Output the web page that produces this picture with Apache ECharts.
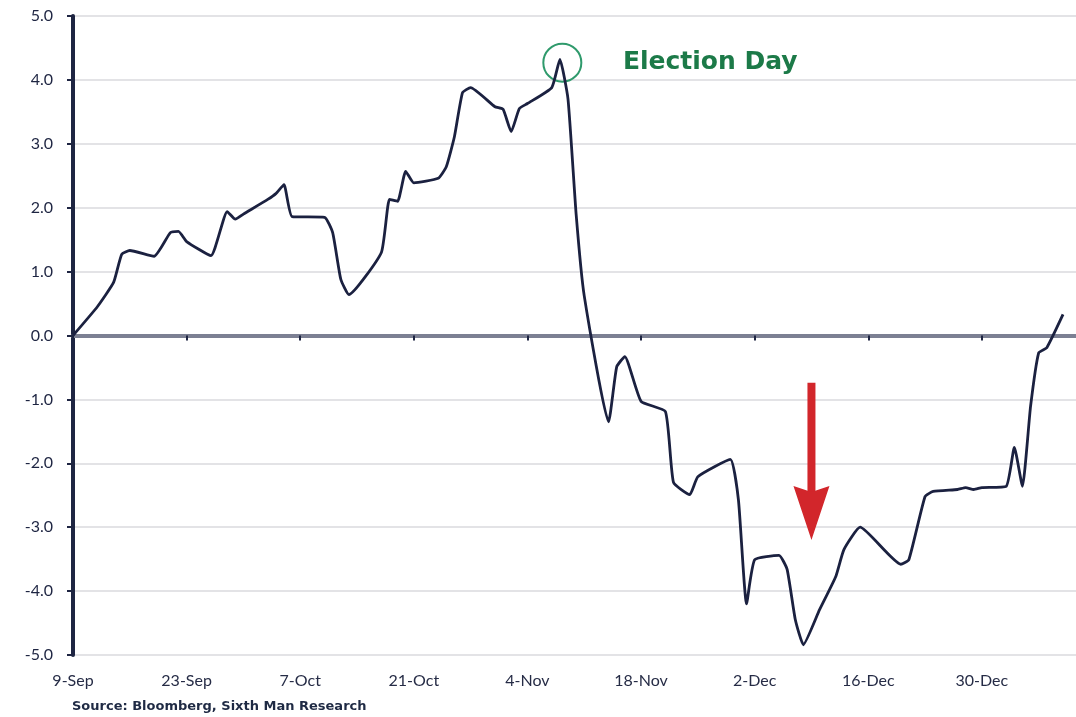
<!DOCTYPE html>
<html>
<head>
<meta charset="utf-8">
<script src="https://cdn.jsdelivr.net/npm/echarts@6/dist/echarts.min.js"></script>
<style>
html,body{margin:0;padding:0;background:#fff;}
#chart{width:1076px;height:717px;}
</style>
</head>
<body>
<div id="chart"></div>
<script>
// ---- data ----
const startDate = '2016-09-09';
const dates = [
 '2016-09-09','2016-09-12','2016-09-14','2016-09-15','2016-09-16','2016-09-19','2016-09-21','2016-09-22','2016-09-23',
 '2016-09-26','2016-09-28','2016-09-29','2016-09-30','2016-10-03','2016-10-04','2016-10-05','2016-10-06','2016-10-10',
 '2016-10-11','2016-10-12','2016-10-13','2016-10-17','2016-10-18','2016-10-19','2016-10-20','2016-10-21','2016-10-24',
 '2016-10-25','2016-10-26','2016-10-27','2016-10-28','2016-10-31','2016-11-01','2016-11-02','2016-11-03','2016-11-04',
 '2016-11-07','2016-11-08','2016-11-09','2016-11-10','2016-11-11','2016-11-14','2016-11-15','2016-11-16','2016-11-18',
 '2016-11-21','2016-11-22','2016-11-24','2016-11-25','2016-11-29','2016-11-30','2016-12-01','2016-12-02','2016-12-05',
 '2016-12-06','2016-12-07','2016-12-08','2016-12-10','2016-12-12','2016-12-13','2016-12-15','2016-12-20','2016-12-21',
 '2016-12-23','2016-12-24','2016-12-27','2016-12-28','2016-12-29','2016-12-30','2017-01-02','2017-01-03','2017-01-04',
 '2017-01-05','2017-01-06','2017-01-07','2017-01-09'
];
const values = [
 0.00,0.45,0.83,1.27,1.33,1.24,1.61,1.63,1.47,
 1.25,1.94,1.82,1.90,2.13,2.22,2.36,1.86,1.85,
 1.61,0.88,0.64,1.30,2.13,2.10,2.57,2.39,2.46,
 2.64,3.11,3.80,3.88,3.58,3.54,3.19,3.55,3.63,
 3.88,4.32,3.70,1.90,0.62,-1.35,-0.49,-0.33,-1.03,
 -1.19,-2.30,-2.49,-2.21,-1.94,-2.57,-4.20,-3.51,-3.44,
 -3.66,-4.44,-4.84,-4.29,-3.77,-3.35,-3.00,-3.58,-3.51,
 -2.52,-2.44,-2.41,-2.38,-2.41,-2.38,-2.36,-1.75,-2.36,
 -1.11,-0.27,-0.19,0.33
];
const xTickDays = [0,14,28,42,56,70,84,98,112];
const yTicks = [-5,-4,-3,-2,-1,0,1,2,3,4,5];
const monthNames = ['Jan','Feb','Mar','Apr','May','Jun','Jul','Aug','Sep','Oct','Nov','Dec'];
const electionDate = '2016-11-08';
const electionValue = 4.32;
const arrowDate = '2016-12-09';
const arrowFrom = -0.74;
const arrowTo = -3.2;
const annotationText = 'Election Day';
const sourceText = 'Source: Bloomberg, Sixth Man Research';

// ---- helpers ----
const DAY = 86400000;
const t0 = Date.parse(startDate + 'T00:00:00Z');
const dayOf = s => Math.round((Date.parse(s + 'T00:00:00Z') - t0) / DAY);
const labelOf = d => { const dt = new Date(t0 + d * DAY); return dt.getUTCDate() + '-' + monthNames[dt.getUTCMonth()]; };
const seriesData = dates.map((d, i) => [dayOf(d), values[i]]);

const dark = '#1e2542';
const font = 'Lato, "Open Sans", sans-serif';
const xMax = 123.6;

const chart = echarts.init(document.getElementById('chart'));
chart.setOption({
  animation: false,
  backgroundColor: '#ffffff',
  grid: { left: 73, right: 0, top: 16, bottom: 62, containLabel: false },
  xAxis: [
    {
      type: 'value', min: 0, max: xMax, interval: 14, position: 'bottom',
      axisLine: { show: false, onZero: false },
      axisTick: { show: false },
      splitLine: { show: false },
      axisLabel: {
        customValues: xTickDays,
        formatter: v => labelOf(v),
        margin: 18,
        color: '#262c46', fontSize: 16, fontFamily: font
      }
    },
    {
      type: 'value', min: 0, max: xMax, interval: 14, position: 'bottom',
      axisLine: { show: true, onZero: true, lineStyle: { color: '#7c8093', width: 4 } },
      axisTick: { show: true, customValues: xTickDays, length: 5, lineStyle: { color: dark, width: 2 } },
      axisLabel: { show: false },
      splitLine: { show: false }
    }
  ],
  yAxis: {
    type: 'value', min: yTicks[0], max: yTicks[yTicks.length - 1], interval: 1,
    axisLine: { show: true, onZero: false, lineStyle: { color: dark, width: 4 } },
    axisTick: { show: true, length: 6, lineStyle: { color: dark, width: 2 } },
    splitLine: { show: true, lineStyle: { color: '#e3e3e6', width: 2 } },
    axisLabel: {
      formatter: v => v.toFixed(1), margin: 20,
      color: dark, fontSize: 16, fontFamily: font
    }
  },
  series: [{
    type: 'line', xAxisIndex: 0, yAxisIndex: 0,
    data: seriesData, showSymbol: false, smooth: 0.15,
    lineStyle: { color: '#1b2140', width: 2.8 },
    z: 5,
    markPoint: {
      silent: true,
      symbol: 'circle', symbolSize: 38,
      itemStyle: { color: 'rgba(0,0,0,0)', borderColor: '#2f9a6c', borderWidth: 2 },
      label: { show: false },
      data: [{ coord: [dayOf(electionDate) + 0.3, electionValue - 0.05] }]
    }
  }]
});

function drawAnnotations() {
  const p0 = chart.convertToPixel({ xAxisIndex: 0, yAxisIndex: 0 }, [dayOf(arrowDate), arrowFrom]);
  const p1 = chart.convertToPixel({ xAxisIndex: 0, yAxisIndex: 0 }, [dayOf(arrowDate), arrowTo]);
  const pe = chart.convertToPixel({ xAxisIndex: 0, yAxisIndex: 0 }, [dayOf(electionDate), electionValue]);
  const headH = 54, headW = 36, shaftW = 8, notch = 6;
  const cx = p0[0];
  chart.setOption({
    graphic: [
      { type: 'rect', shape: { x: cx - shaftW / 2, y: p0[1], width: shaftW, height: (p1[1] - headH) - p0[1] + notch + 2 },
        style: { fill: '#d2262b' }, z: 10 },
      { type: 'polygon', shape: { points: [[cx - headW / 2, p1[1] - headH], [cx, p1[1] - headH + notch], [cx + headW / 2, p1[1] - headH], [cx, p1[1]]] },
        style: { fill: '#d2262b' }, z: 10 },
      { type: 'text', left: pe[0] + 63, top: pe[1] - 9,
        style: { text: annotationText, fill: '#1c7a48', font: 'bold 25px "DejaVu Sans", sans-serif' }, z: 10 },
      { type: 'text', left: 72, top: 700,
        style: { text: sourceText, fill: '#1f2a44', font: 'bold 13px "DejaVu Sans", sans-serif' }, z: 10 }
    ]
  });
}
drawAnnotations();
</script>
</body>
</html>
